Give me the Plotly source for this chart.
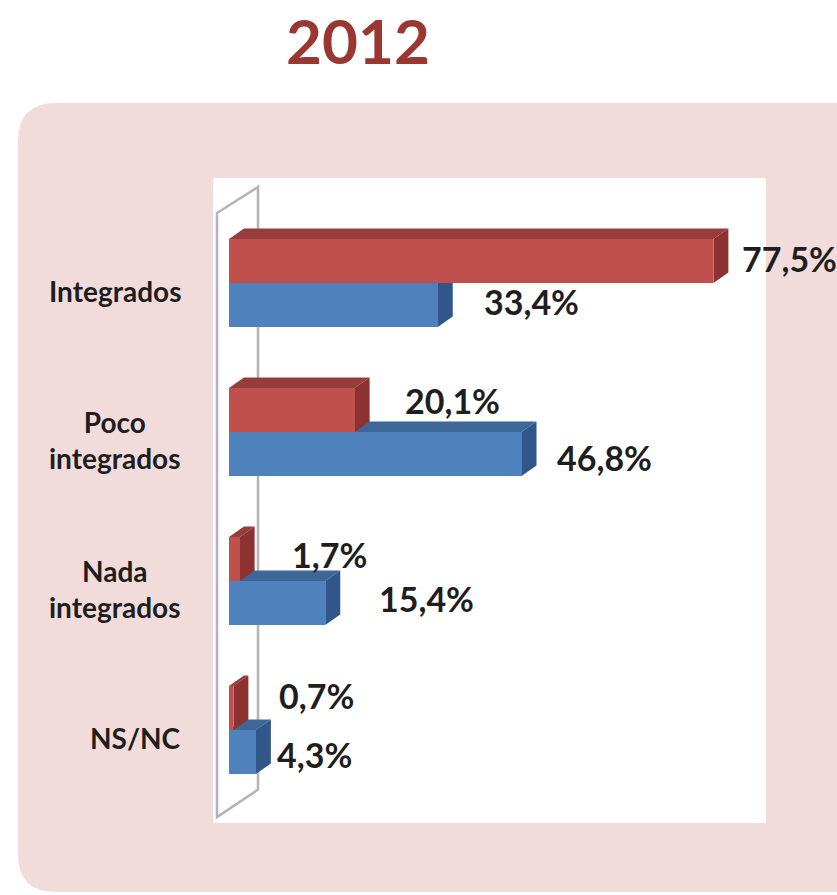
import plotly.graph_objects as go

# ---------------- data ----------------
categories = ["Integrados", "Poco<br>integrados", "Nada<br>integrados", "NS/NC"]
red_values = [77.5, 20.1, 1.7, 0.7]
blue_values = [33.4, 46.8, 15.4, 4.3]
title_text = "2012"

# ---------------- style ----------------
RED_FRONT, RED_TOP, RED_SIDE = "#c0504d", "#963c3a", "#8c3230"
BLUE_FRONT, BLUE_TOP, BLUE_SIDE = "#4f81bd", "#3d6699", "#31568a"
PINK = "#f2dcdb"
TEXT = "#1e1e1e"
FONT = "Lato"

W, H = 837, 895
PL, PR, PT, PB = 213, 766, 178, 823          # plot area in pixels
X_MIN, X_MAX = -2.56, 85.92                  # value axis range
Y_TOP, Y_BOT = -0.7047, 3.6242               # category axis range (reversed)
BAR_H = 0.295                                # bar thickness (category units)
DX = 2.4                                     # 3-D depth, value units
DY = 0.0705                                  # 3-D depth, category units

# label offsets (pixels) for the data labels
red_label_dx = [27, 48, 50, 44]
red_label_dy = [3, 10, 5, 13]
blue_label_dx = [44, 33, 52, 19]
blue_label_dy = [3, -4, 4, -3]


def fx(px):
    return (px - PL) / (PR - PL)


def fy(py):
    return (PB - py) / (PB - PT)


def fmt(v):
    return f"{v:.1f}".replace(".", ",") + "%"


rows = list(range(len(categories)))
red_y = [r - BAR_H / 2 for r in rows]
blue_y = [r + BAR_H / 2 for r in rows]

fig = go.Figure()
fig.add_trace(go.Bar(orientation="h", x=red_values, y=red_y, width=BAR_H,
                     marker=dict(color=RED_FRONT, line=dict(width=0)),
                     hoverinfo="skip", showlegend=False))
fig.add_trace(go.Bar(orientation="h", x=blue_values, y=blue_y, width=BAR_H,
                     marker=dict(color=BLUE_FRONT, line=dict(width=0)),
                     hoverinfo="skip", showlegend=False))

shapes = []
# pink rounded panel
r = 38
x0, x1, y0, y1 = 18, 880, 103, 892
shapes.append(dict(
    type="path", xref="paper", yref="paper", layer="below", line=dict(width=0), fillcolor=PINK,
    path=(f"M {fx(x0 + r)},{fy(y0)} L {fx(x1)},{fy(y0)} L {fx(x1)},{fy(y1)} "
          f"L {fx(x0 + r)},{fy(y1)} Q {fx(x0)},{fy(y1)} {fx(x0)},{fy(y1 - r)} "
          f"L {fx(x0)},{fy(y0 + r)} Q {fx(x0)},{fy(y0)} {fx(x0 + r)},{fy(y0)} Z")))
# white plot area
shapes.append(dict(type="rect", xref="paper", yref="paper", layer="below",
                   x0=0, x1=1, y0=0, y1=1, fillcolor="white", line=dict(width=0)))
# grey wall outline
wall = [(-1.92, -0.47), (4.64, -0.644), (4.64, 3.40), (-1.92, 3.585)]
shapes.append(dict(
    type="path", xref="x", yref="y", layer="below", fillcolor="rgba(0,0,0,0)",
    line=dict(color="#b4b4b4", width=2.5),
    path="M " + " L ".join(f"{a},{b}" for a, b in wall) + " Z"))


def faces(vals, ys, top_col, side_col):
    out = []
    for v, yc in zip(vals, ys):
        yt = yc - BAR_H / 2
        yb = yc + BAR_H / 2
        out.append(dict(type="path", xref="x", yref="y", layer="below",
                        fillcolor=top_col, line=dict(width=0),
                        path=f"M 0,{yt} L {v},{yt} L {v + DX},{yt - DY} L {DX},{yt - DY} Z"))
        out.append(dict(type="path", xref="x", yref="y", layer="below",
                        fillcolor=side_col, line=dict(width=0),
                        path=f"M {v},{yt} L {v + DX},{yt - DY} L {v + DX},{yb - DY} L {v},{yb} Z"))
    return out


shapes += faces(blue_values, blue_y, BLUE_TOP, BLUE_SIDE)
shapes += faces(red_values, red_y, RED_TOP, RED_SIDE)

ann = []
for v, yv, dx, dy in zip(red_values, red_y, red_label_dx, red_label_dy):
    ann.append(dict(x=v, y=yv, xref="x", yref="y", text=fmt(v), showarrow=False,
                    xanchor="left", yanchor="middle", xshift=dx, yshift=dy,
                    font=dict(family=FONT, size=34, color=TEXT, weight="bold")))
for v, yv, dx, dy in zip(blue_values, blue_y, blue_label_dx, blue_label_dy):
    ann.append(dict(x=v, y=yv, xref="x", yref="y", text=fmt(v), showarrow=False,
                    xanchor="left", yanchor="middle", xshift=dx, yshift=dy,
                    font=dict(family=FONT, size=34, color=TEXT, weight="bold")))
for c, rr in zip(categories, rows):
    ann.append(dict(x=fx(183), y=rr, xref="paper", yref="y", text=c, showarrow=False,
                    xanchor="right", yanchor="middle", align="center", yshift=-8,
                    font=dict(family=FONT, size=28, color=TEXT, weight="bold")))

fig.update_layout(
    width=W, height=H,
    margin=dict(l=PL, r=W - PR, t=PT, b=H - PB, pad=0),
    paper_bgcolor="white", plot_bgcolor="rgba(0,0,0,0)",
    barmode="overlay", bargap=0,
    title=dict(text=title_text, x=358 / W, y=1 - 42 / H, xref="container", yref="container",
               xanchor="center", yanchor="middle",
               font=dict(family=FONT, size=62, color="#9b3733", weight="bold")),
    xaxis=dict(range=[X_MIN, X_MAX], visible=False, fixedrange=True),
    yaxis=dict(range=[Y_BOT, Y_TOP], visible=False, fixedrange=True),
    shapes=shapes, annotations=ann,
)

fig.write_html(
    "out.html",
    config={"displayModeBar": False},
    post_script="document.body.style.margin='0';document.body.style.overflow='hidden';",
)
